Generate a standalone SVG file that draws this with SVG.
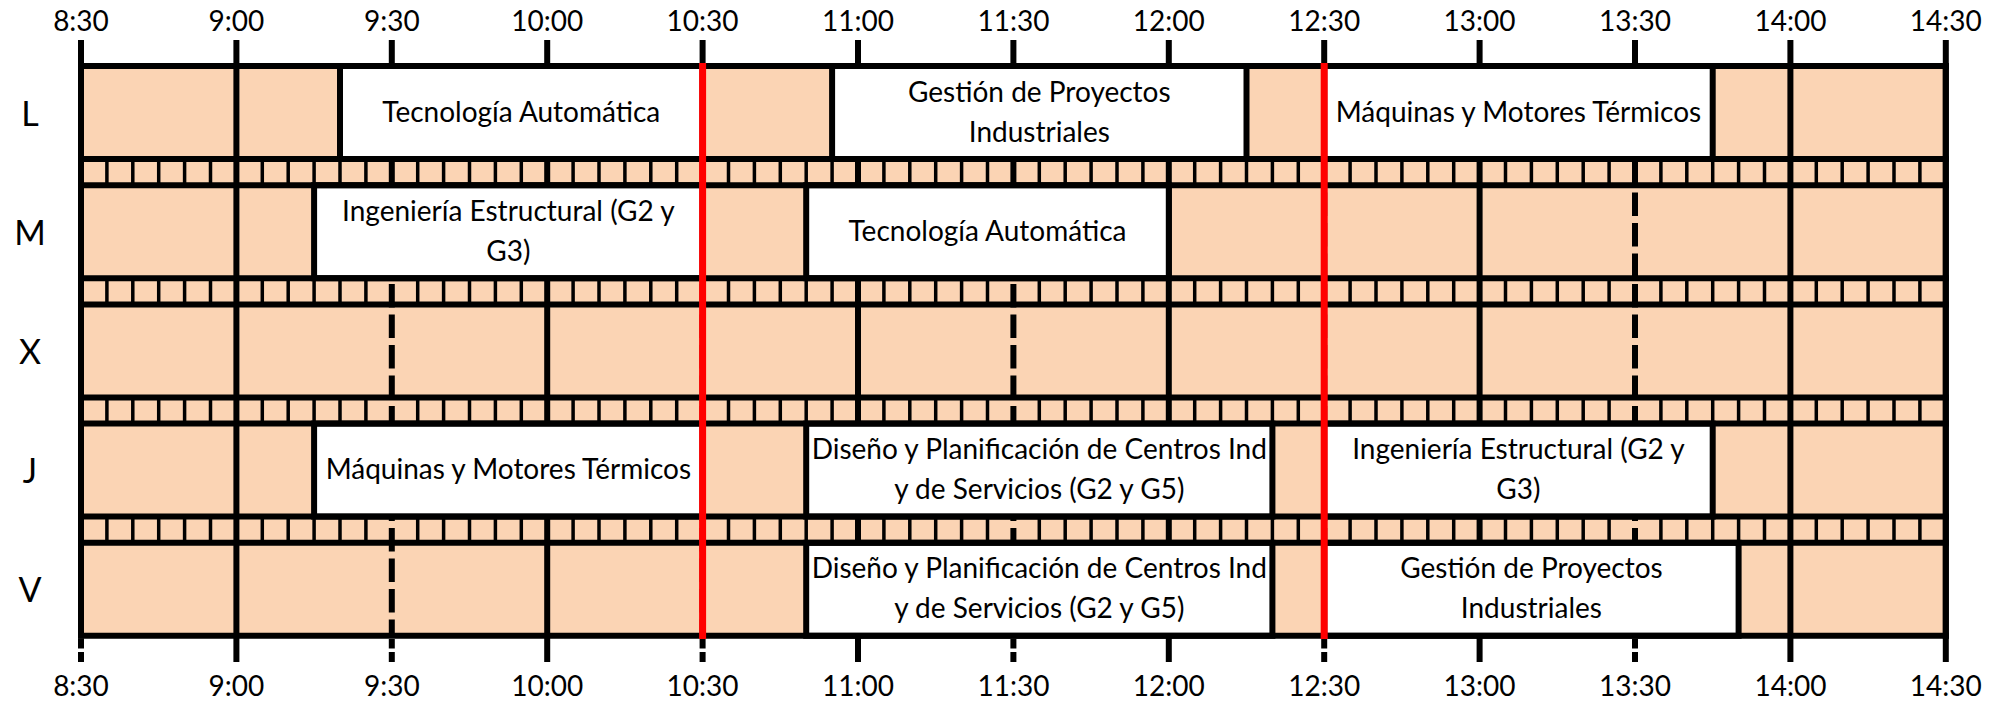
<svg xmlns="http://www.w3.org/2000/svg" width="1999" height="702" viewBox="0 0 1999 702">
<style>
  .bg{fill:#FBD4B4}
  .band{fill:none;stroke:#000;stroke-width:26.2;stroke-dasharray:3.5 22.4 3.5 22.4 3.5 22.4 3.5 22.4 3.5 48.3}
  .hour{stroke:#000;stroke-width:6;fill:none}
  .half{stroke:#000;stroke-width:6;fill:none;stroke-dasharray:23.5 7}
  .hl{stroke:#000;stroke-width:6;fill:none}
  .box{fill:#fff;stroke:#000;stroke-width:6}
  .red{stroke:#FF0000;stroke-width:7;fill:none}
  text{font-family:Lato,"Liberation Sans",sans-serif;fill:#000}
  .t{font-size:28px;text-anchor:middle}
  .day{font-size:34px;text-anchor:middle}
</style>
<rect width="1999" height="702" fill="#fff"/>
<g id="grid">
  <rect class="bg" x="81" y="66" width="1864.8" height="569.8"/>
  <line class="band" x1="105.15" y1="172.1" x2="1945.8" y2="172.1"/>
  <line class="band" x1="105.15" y1="291.3" x2="1945.8" y2="291.3"/>
  <line class="band" x1="105.15" y1="410.5" x2="1945.8" y2="410.5"/>
  <line class="band" x1="105.15" y1="529.7" x2="1945.8" y2="529.7"/>
  <path class="hour" d="M236.4 40V662M547.2 40V662M858 40V662M1168.8 40V662M1479.6 40V662M1790.4 40V662M1945.8 40V662"/>
  <path class="half" d="M81 40V636M391.8 40V636M702.6 40V636M1013.4 40V636M1324.2 40V636M1635 40V636"/>
  <path class="hour" d="M81 639V648.5M81 652V662M391.8 639V648.5M391.8 652V662M702.6 639V648.5M702.6 652V662M1013.4 639V648.5M1013.4 652V662M1324.2 639V648.5M1324.2 652V662M1635 639V648.5M1635 652V662"/>
</g>
<g id="L-row">
  <text class="day" x="30" y="125.5">L</text>
  <g id="L-tecnologia"><rect class="box" x="340" y="66" width="362.6" height="93"/><text class="t" x="521.3" y="121.7">Tecnología Automática</text></g>
  <g id="L-gestion"><rect class="box" x="832.1" y="66" width="414.4" height="93"/><text class="t" x="1039.3" y="101.5">Gestión de Proyectos</text><text class="t" x="1039.3" y="141.5">Industriales</text></g>
  <g id="L-maquinas"><rect class="box" x="1324.2" y="66" width="388.5" height="93"/><text class="t" x="1518.45" y="121.7">Máquinas y Motores Térmicos</text></g>
</g>
<g id="M-row">
  <text class="day" x="30" y="244.7">M</text>
  <g id="M-ingenieria"><rect class="box" x="314.1" y="185.2" width="388.5" height="93"/><text class="t" x="508.35" y="220.7">Ingeniería Estructural (G2 y</text><text class="t" x="508.35" y="260.7">G3)</text></g>
  <g id="M-tecnologia"><rect class="box" x="806.2" y="185.2" width="362.6" height="93"/><text class="t" x="987.5" y="240.9">Tecnología Automática</text></g>
</g>
<g id="X-row">
  <text class="day" x="30" y="363.9">X</text>
</g>
<g id="J-row">
  <text class="day" x="30" y="483.1">J</text>
  <g id="J-maquinas"><rect class="box" x="314.1" y="423.6" width="388.5" height="93"/><text class="t" x="508.35" y="479.3">Máquinas y Motores Térmicos</text></g>
  <g id="J-diseno"><rect class="box" x="806.2" y="423.6" width="466.2" height="93"/><text class="t" x="1039.3" y="459.1">Diseño y Planificación de Centros Ind</text><text class="t" x="1039.3" y="499.1">y de Servicios (G2 y G5)</text></g>
  <g id="J-ingenieria"><rect class="box" x="1324.2" y="423.6" width="388.5" height="93"/><text class="t" x="1518.45" y="459.1">Ingeniería Estructural (G2 y</text><text class="t" x="1518.45" y="499.1">G3)</text></g>
</g>
<g id="V-row">
  <text class="day" x="30" y="602.3">V</text>
  <g id="V-diseno"><rect class="box" x="806.2" y="542.8" width="466.2" height="93"/><text class="t" x="1039.3" y="578.3">Diseño y Planificación de Centros Ind</text><text class="t" x="1039.3" y="618.3">y de Servicios (G2 y G5)</text></g>
  <g id="V-gestion"><rect class="box" x="1324.2" y="542.8" width="414.4" height="93"/><text class="t" x="1531.4" y="578.3">Gestión de Proyectos</text><text class="t" x="1531.4" y="618.3">Industriales</text></g>
</g>
<g id="frame">
  <path class="hl" d="M78 66H1948.8M78 159H1948.8M78 185.2H1948.8M78 278.2H1948.8M78 304.4H1948.8M78 397.4H1948.8M78 423.6H1948.8M78 516.6H1948.8M78 542.8H1948.8M78 635.8H1948.8"/>
  <path class="hl" d="M81 63V638.8M1945.8 63V638.8"/>
  <path class="red" d="M702.6 63V639M1324.2 63V639"/>
</g>
<g id="time-axis">
  <text class="t" x="81" y="30.5">8:30</text><text class="t" x="236.4" y="30.5">9:00</text><text class="t" x="391.8" y="30.5">9:30</text><text class="t" x="547.2" y="30.5">10:00</text><text class="t" x="702.6" y="30.5">10:30</text><text class="t" x="858" y="30.5">11:00</text><text class="t" x="1013.4" y="30.5">11:30</text><text class="t" x="1168.8" y="30.5">12:00</text><text class="t" x="1324.2" y="30.5">12:30</text><text class="t" x="1479.6" y="30.5">13:00</text><text class="t" x="1635" y="30.5">13:30</text><text class="t" x="1790.4" y="30.5">14:00</text><text class="t" x="1945.8" y="30.5">14:30</text>
  <text class="t" x="81" y="696">8:30</text><text class="t" x="236.4" y="696">9:00</text><text class="t" x="391.8" y="696">9:30</text><text class="t" x="547.2" y="696">10:00</text><text class="t" x="702.6" y="696">10:30</text><text class="t" x="858" y="696">11:00</text><text class="t" x="1013.4" y="696">11:30</text><text class="t" x="1168.8" y="696">12:00</text><text class="t" x="1324.2" y="696">12:30</text><text class="t" x="1479.6" y="696">13:00</text><text class="t" x="1635" y="696">13:30</text><text class="t" x="1790.4" y="696">14:00</text><text class="t" x="1945.8" y="696">14:30</text>
</g>
</svg>
